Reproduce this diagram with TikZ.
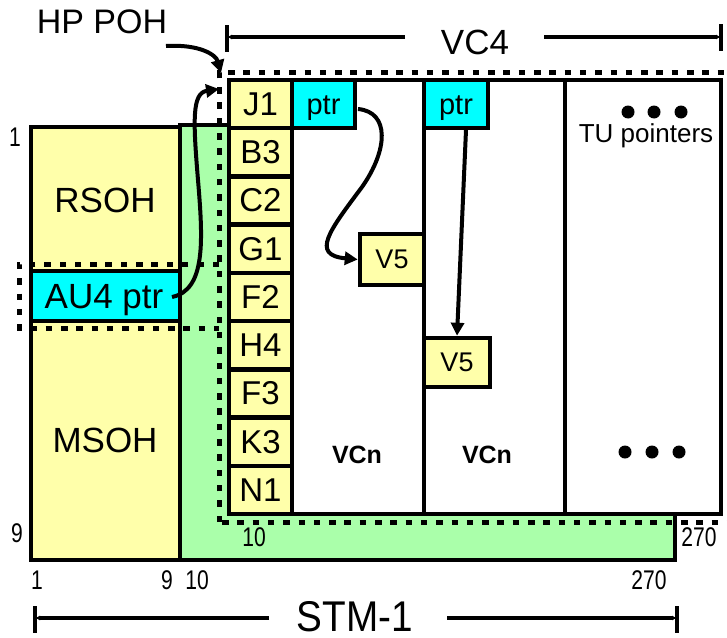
\documentclass[tikz,border=0pt]{standalone}
\usepackage{fontspec}
\setmainfont{Liberation Sans}
\usetikzlibrary{arrows.meta}
\definecolor{syel}{RGB}{255,255,170}
\definecolor{sgrn}{RGB}{170,255,170}
\definecolor{scyn}{RGB}{0,255,255}
\newcommand\fs[1]{\fontsize{#1}{#1}\selectfont}
\newcommand\narrow[1]{\scalebox{0.78}[1]{#1}}
\tikzset{
  box/.style={draw=black, line width=4.5pt, inner sep=0pt, font=\fs{33}},
  ybox/.style={box, fill=syel},
  cbox/.style={box, fill=scyn},
  dotline/.style={line width=5pt, dash pattern=on 6.5pt off 8.8pt},
  conn/.style={line width=4pt, -{Triangle[length=13pt,width=13pt]}},
  dimline/.style={line width=4.5pt},
  dimtip/.style={line width=4.5pt, -{Latex[length=5pt,width=5pt]}},
  num/.style={font=\fs{27}, inner sep=0pt},
  lab/.style={inner sep=0pt},
  dot/.style={fill=black, draw=none},
}
\begin{document}
\begin{tikzpicture}[x=1pt,y=-1pt]
\useasboundingbox (0,0) rectangle (727,637);

% green payload area
\node[box, fill=sgrn, minimum width=495, minimum height=435] (green) at (427.5,342.5) {};
% section overhead
\node[ybox, minimum width=149, minimum height=433] (soh) at (105.5,343.5) {};
\node[cbox, minimum width=149, minimum height=50] (au4box) at (105.5,296) {};
\node[lab, font=\fs{35}] (rsoh) at (105,200) {RSOH};
\node[lab, font=\fs{35}] (msoh) at (105,440) {MSOH};
\node[lab, font=\fs{35}, anchor=base] (au4) at (104,308) {AU4 ptr};

% AU4 dotted frame
\draw[dotline] (219,264) -- (19,264) -- (19,328) -- (219,328);

% VC4 container
\node[box, fill=white, minimum width=492, minimum height=434] (vc4) at (475,297) {};
\draw[line width=4.5pt] (424,80) -- (424,514);
\draw[line width=4.5pt] (565,80) -- (565,514);

% POH column
\node[ybox, minimum width=63, minimum height=48.22] (J1) at (260.5,104.1) {J1};
\node[ybox, minimum width=63, minimum height=48.22] (B3) at (260.5,152.3) {B3};
\node[ybox, minimum width=63, minimum height=48.22] (C2) at (260.5,200.6) {C2};
\node[ybox, minimum width=63, minimum height=48.22] (G1) at (260.5,248.8) {G1};
\node[ybox, minimum width=63, minimum height=48.22] (F2) at (260.5,297.0) {F2};
\node[ybox, minimum width=63, minimum height=48.22] (H4) at (260.5,345.2) {H4};
\node[ybox, minimum width=63, minimum height=48.22] (F3) at (260.5,393.4) {F3};
\node[ybox, minimum width=63, minimum height=48.22] (K3) at (260.5,441.7) {K3};
\node[ybox, minimum width=63, minimum height=48.22] (N1) at (260.5,489.9) {N1};

% pointers and V5
\node[cbox, minimum width=63, minimum height=48] (ptr1) at (323.5,104) {};
\node[lab, font=\fs{29}, anchor=base] (ptr1t) at (323.5,114) {ptr};
\node[cbox, minimum width=64, minimum height=48] (ptr2) at (456,104) {};
\node[lab, font=\fs{29}, anchor=base] (ptr2t) at (456,114) {ptr};
\node[ybox, font=\fs{27}, minimum width=64, minimum height=51] (v5a) at (392,259.5) {V5};
\node[ybox, font=\fs{27}, minimum width=66, minimum height=49] (v5b) at (457,362.5) {V5};

\coordinate (p1s) at (358,109);
\coordinate (p2s) at (466,130);
\draw[conn] (p1s) .. controls (390,112) and (388,150) .. (362,187)
  .. controls (330,230) and (310,255) .. (v5a.west);
\draw[conn] (p2s) -- (v5b.north);

\node[lab, font=\bfseries\fs{25}] (vcn1) at (357,455) {VCn};
\node[lab, font=\bfseries\fs{25}] (vcn2) at (487,455) {VCn};

% TU pointers
\fill[dot] (628,112) circle (6.5) (654,112) circle (6.5) (681,112) circle (6.5);
\node[lab, font=\fs{26}, anchor=base] (tup) at (646,142) {TU pointers};
\fill[dot] (625,452) circle (6.5) (652,452) circle (6.5) (679,452) circle (6.5);

% VC4 dotted frame
\draw[dotline] (219,522) -- (219,72) -- (727,72);
\draw[dotline] (222,522) -- (727,522);

% AU4 pointer arrow
\coordinate (au4s) at (172,297);
\coordinate (j1t) at (219,89);
\draw[conn] (au4s) .. controls (206,290) and (203,240) .. (198,180)
  .. controls (193,120) and (192,93) .. (j1t);

% HP POH label and arrow
\node[lab, font=\fs{34}] (hppoh) at (102,22) {HP POH};
\coordinate (hps) at (166,46);
\coordinate (hpe) at (221,73);
\draw[conn] (hps) .. controls (200,44) and (216,55) .. (hpe);

% VC4 dimension
\node[lab, font=\fs{35}] (vc4lab) at (475,42) {VC4};
\coordinate (vcL) at (227,37);
\coordinate (vcR) at (721,37);
\coordinate (vcLi) at (405,37);
\coordinate (vcRi) at (544,37);
\draw[dimline] (227,25) -- (227,52);
\draw[dimline] (721,24) -- (721,51);
\draw[dimtip] (vcLi) -- (vcL);
\draw[dimtip] (vcRi) -- (vcR);

% STM-1 dimension
\node[lab, font=\fs{43}] (stmlab) at (355,617) {\scalebox{0.9}[1]{STM-1}};
\coordinate (stL) at (35,618);
\coordinate (stR) at (677,618);
\coordinate (stLi) at (269,618);
\coordinate (stRi) at (447,618);
\draw[dimline] (35,606) -- (35,633);
\draw[dimline] (677,606) -- (677,633);
\draw[dimtip] (stLi) -- (stL);
\draw[dimtip] (stRi) -- (stR);

% numbers
\node[num] (n1a) at (15,137) {\narrow{1}};
\node[num] (n9a) at (17,533) {\narrow{9}};
\node[num] (n1b) at (37,580) {\narrow{1}};
\node[num] (n9b) at (167,580) {\narrow{9}};
\node[num] (n10b) at (197,580) {\narrow{10}};
\node[num] (n270b) at (649,580) {\narrow{270}};
\node[num] (n10c) at (254,537) {\narrow{10}};
\node[num] (n270c) at (699,537) {\narrow{270}};
\end{tikzpicture}
\end{document}
